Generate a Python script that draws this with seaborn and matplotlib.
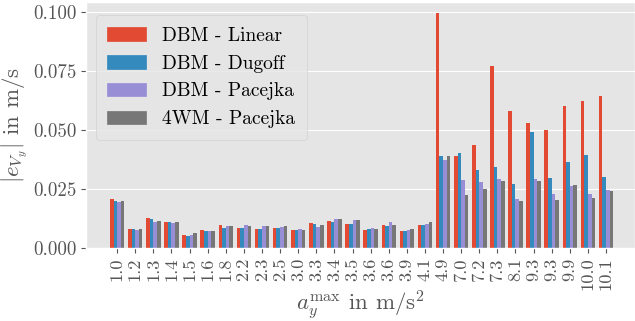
import numpy as np
import pandas as pd
import matplotlib
matplotlib.use("Agg")
import matplotlib.pyplot as plt
import seaborn as sns

# Peak lateral acceleration of each manoeuvre (tick labels, in order)
categories = ["1.0", "1.2", "1.3", "1.4", "1.5", "1.6", "1.8", "2.2", "2.3", "2.5",
              "3.0", "3.3", "3.4", "3.5", "3.6", "3.6", "3.9", "4.1", "4.9", "7.0",
              "7.2", "7.3", "8.1", "9.3", "9.3", "9.9", "10.0", "10.1"]

# Mean absolute lateral velocity error per model, in m/s
dbm_linear = [0.0208, 0.0080, 0.0127, 0.0110, 0.0055, 0.0076, 0.0097, 0.0085, 0.0080, 0.0085,
              0.0076, 0.0106, 0.0114, 0.0102, 0.0076, 0.0097, 0.0072, 0.0097, 0.0997, 0.0391,
              0.0436, 0.0771, 0.0581, 0.0530, 0.0500, 0.0602, 0.0623, 0.0644]
dbm_dugoff = [0.0199, 0.0080, 0.0123, 0.0110, 0.0051, 0.0072, 0.0085, 0.0085, 0.0080, 0.0085,
              0.0076, 0.0102, 0.0110, 0.0102, 0.0080, 0.0093, 0.0072, 0.0097, 0.0391, 0.0403,
              0.0331, 0.0343, 0.0271, 0.0492, 0.0297, 0.0364, 0.0394, 0.0301]
dbm_pacejka = [0.0196, 0.0076, 0.0110, 0.0106, 0.0055, 0.0072, 0.0093, 0.0097, 0.0093, 0.0089,
               0.0080, 0.0089, 0.0123, 0.0119, 0.0085, 0.0110, 0.0076, 0.0102, 0.0373, 0.0288,
               0.0280, 0.0292, 0.0208, 0.0292, 0.0229, 0.0263, 0.0229, 0.0246]
fwm_pacejka = [0.0199, 0.0080, 0.0114, 0.0110, 0.0064, 0.0072, 0.0093, 0.0093, 0.0093, 0.0093,
               0.0076, 0.0097, 0.0123, 0.0119, 0.0080, 0.0097, 0.0080, 0.0110, 0.0391, 0.0225,
               0.0250, 0.0284, 0.0199, 0.0284, 0.0203, 0.0267, 0.0212, 0.0242]

models = ["DBM - Linear", "DBM - Dugoff", "DBM - Pacejka", "4WM - Pacejka"]
series = [dbm_linear, dbm_dugoff, dbm_pacejka, fwm_pacejka]
colors = ["#E24A33", "#348ABD", "#988ED5", "#777777"]

plt.style.use("ggplot")
plt.rcParams["font.family"] = ["cmr10", "DejaVu Serif"]
plt.rcParams["mathtext.fontset"] = "cm"
plt.rcParams["axes.unicode_minus"] = False
plt.rcParams["axes.formatter.use_mathtext"] = True
plt.rcParams["font.size"] = 14

rows = []
for model, vals in zip(models, series):
    for i, v in enumerate(vals):
        rows.append({"run": i, "model": model, "err": v})
df = pd.DataFrame(rows)

fig = plt.figure(figsize=(6.35, 3.21), dpi=100)
ax = fig.add_axes([86 / 635, 73 / 321, 1 - 86 / 635, 246 / 321])

sns.barplot(data=df, x="run", y="err", hue="model", hue_order=models,
            palette=colors, saturation=1, width=0.8, linewidth=0,
            errorbar=None, ax=ax, legend=False)

n = len(categories)
ax.set_xlim(-1.72, n - 1 + 1.6)
ax.set_ylim(0, 0.1043)
ax.set_xticks(np.arange(n))
ax.set_xticklabels(categories, rotation=90, fontsize=13.3)
ax.set_yticks([0.0, 0.025, 0.05, 0.075, 0.1])
ax.set_yticklabels(["0.000", "0.025", "0.050", "0.075", "0.100"], fontsize=13.6)
ax.set_xlabel(r"$a_y^{\max}$ in m/s$^2$", fontsize=16.5, labelpad=-1.5)
ax.set_ylabel(r"$|e_{V_y}|$ in m/s", fontsize=16.5, labelpad=2)

handles = [plt.Rectangle((0, 0), 1, 1, color=c) for c in colors]
ax.legend(handles, models, loc="upper left", fontsize=14, borderpad=0.6,
          bbox_to_anchor=(0.0, 0.985))

fig.savefig("out.png", dpi=100)
